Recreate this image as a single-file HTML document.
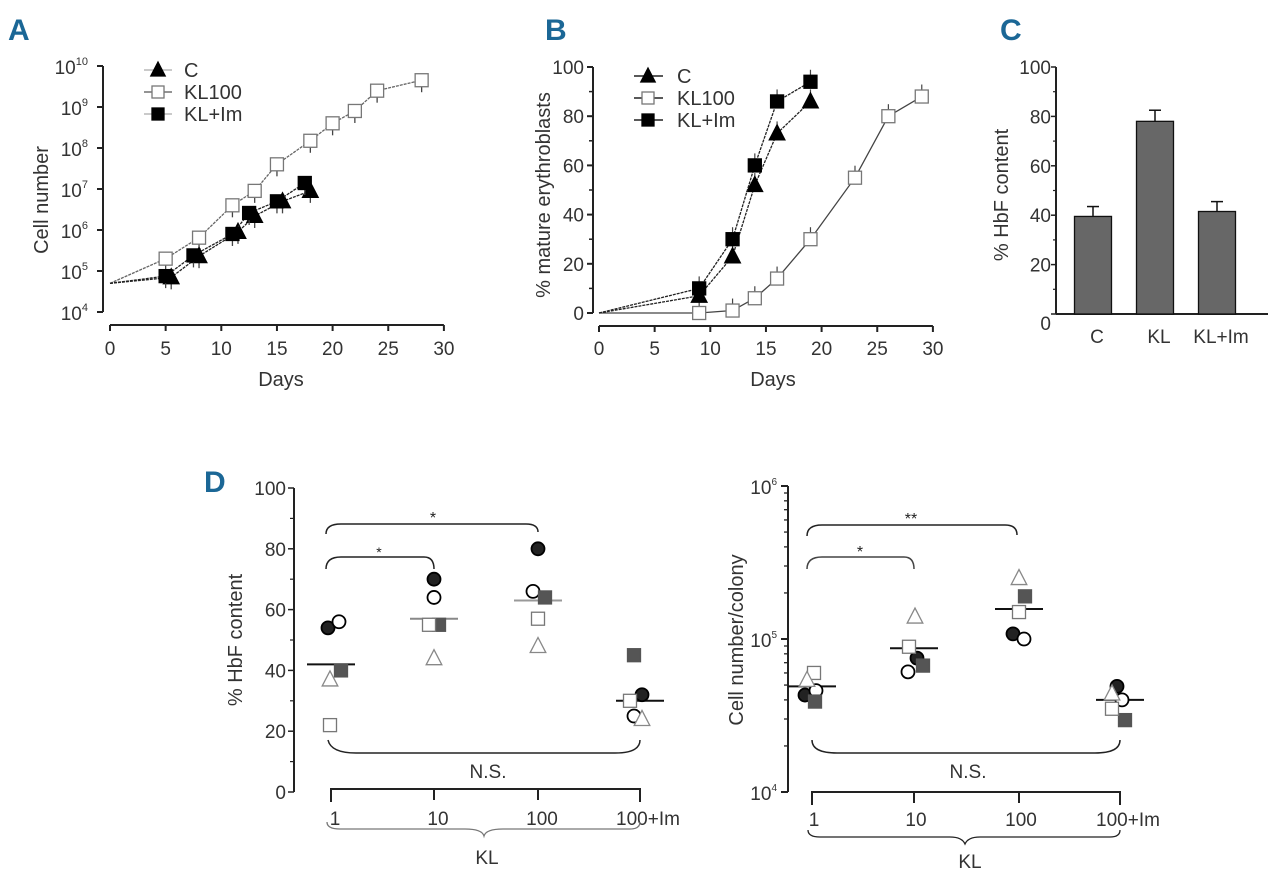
<!DOCTYPE html>
<html><head><meta charset="utf-8">
<style>
html,body{margin:0;padding:0;background:#fff;}
svg{display:block;font-family:"Liberation Sans Narrow","Liberation Sans",sans-serif;}
.lbl{font-family:"Liberation Sans",sans-serif;font-weight:bold;fill:#1b6796;font-size:30px;}
</style></head>
<body>
<svg id="fig" width="1280" height="882" viewBox="0 0 1280 882" xmlns="http://www.w3.org/2000/svg">
<text class="lbl" x="8" y="40">A</text>
<text class="lbl" x="545" y="40">B</text>
<text class="lbl" x="1000" y="40">C</text>
<text class="lbl" x="204" y="492">D</text>
<g id="gA"></g>
<g id="gB"></g>
<g id="gC"></g>
<g id="gD1"></g>
<g id="gD2"></g>
</svg>
<script>
// ---- Panel A data (cell number, log) ----
const aC_days=[0,5.5,8,11.5,13,15.5,18];
const aC_vals=[5e4,7e4,2.3e5,9e5,2.2e6,5e6,9e6];
const aIm_days=[0,5,7.5,11,12.5,15,17.5];
const aIm_vals=[5e4,7.5e4,2.4e5,8e5,2.6e6,5e6,1.4e7];
const aKL_days=[0,5,8,11,13,15,18,20,22,24,28];
const aKL_vals=[5e4,2e5,6.5e5,4e6,9e6,4e7,1.5e8,4e8,8e8,2.5e9,4.5e9];
const aYTicks=[4,5,6,7,8,9,10];
const xTicks=[0,5,10,15,20,25,30];
// ---- Panel B data (% mature erythroblasts) ----
const bC_days=[0,9,12,14,16,19];
const bC_vals=[0,7,23,52,73,86];
const bIm_days=[0,9,12,14,16,19];
const bIm_vals=[0,10,30,60,86,94];
const bKL_days=[0,9,12,14,16,19,23,26,29];
const bKL_vals=[0,0,1,6,14,30,55,80,88];
const bYTicks=[0,20,40,60,80,100];
// ---- Panel C data ----
const cCats=["C","KL","KL+Im"];
const cVals=[39.5,78,41.5];
const cErr=[4,4.5,4];
// ---- Panel D data ----
const dCats=["1","10","100","100+Im"];
const dHbf_filledCircle=[54,70,80,32];
const dHbf_openCircle=[56,64,66,25];
const dHbf_greySquare=[40,55,64,45];
const dHbf_openSquare=[22,55,57,30];
const dHbf_triangle=[37,44,48,24];
const dHbf_mean=[42,57,63,30];
const dCell_filledCircle=[4.3e4,7.5e4,1.08e5,4.9e4];
const dCell_openCircle=[4.6e4,6.1e4,1.0e5,4.0e4];
const dCell_greySquare=[3.9e4,6.7e4,1.9e5,2.95e4];
const dCell_openSquare=[6e4,8.9e4,1.5e5,3.5e4];
const dCell_triangle=[5.4e4,1.4e5,2.5e5,4.4e4];
const dCell_mean=[4.9e4,8.7e4,1.57e5,4.0e4];

const NS="http://www.w3.org/2000/svg";
function mk(parent,tag,attrs,text){const e=document.createElementNS(NS,tag);for(const k in attrs)e.setAttribute(k,attrs[k]);if(text!==undefined)e.textContent=text;parent.appendChild(e);return e;}
function line(p,x1,y1,x2,y2,st,w,dash){return mk(p,'line',{x1,y1,x2,y2,stroke:st||'#222','stroke-width':w||1.5,'stroke-dasharray':dash||'none'});}
function marker(p,type,x,y,s){
  let e;
  if(type==='tri'||type==='otri'){const h=s*1.1;e=mk(p,'polygon',{points:`${x},${y-h*0.6} ${x-s*0.6},${y+h*0.45} ${x+s*0.6},${y+h*0.45}`,fill:type==='tri'?'#000':'#fff',stroke:type==='tri'?'#000':'#888','stroke-width':1.3});}
  else if(type==='sq'||type==='osq'||type==='gsq'){e=mk(p,'rect',{x:x-s/2,y:y-s/2,width:s,height:s,fill:type==='sq'?'#000':type==='gsq'?'#555':'#fff',stroke:type==='osq'?'#777':(type==='gsq'?'#555':'#000'),'stroke-width':1.3});}
  else {e=mk(p,'circle',{cx:x,cy:y,r:s/2,fill:type==='fc'?'#222':'#fff',stroke:'#000','stroke-width':1.8});}
  return e;
}

// ===== Panel A =====
(function(){
  const g=document.getElementById('gA');
  const x0=110,px=11.13,yb=312,dec=41;
  const X=d=>x0+d*px, Y=v=>yb-(Math.log10(v)-4)*dec;
  let e;
  e=line(g,103,Y(1e10),103,yb,'#222',2);
  
  
  aYTicks.forEach(t=>{
    const y=yb-(t-4)*dec;
    e=line(g,97,y,103,y,'#222',2);
    
    
    e=mk(g,'text',{x:88,y:y+8,'text-anchor':'end','font-size':19,fill:'#333'},'10');
    
    
    mk(e,'tspan',{dy:-9,'font-size':11},String(t));
  });
  e=line(g,X(0),325,X(30),325,'#222',2);
  
  
  xTicks.forEach(t=>{
    e=line(g,X(t),325,X(t),331,'#222',2);
    
    
    e=mk(g,'text',{x:X(t),y:355,'text-anchor':'middle','font-size':19,fill:'#333'},String(t));
    
    
  });
  e=mk(g,'text',{x:281,y:386,'text-anchor':'middle','font-size':20,fill:'#333'},'Days');
  
  
  e=mk(g,'text',{x:0,y:0,'text-anchor':'middle','font-size':20,fill:'#333',transform:'translate(48,200) rotate(-90)'},'Cell number');
  
  
  const series=[[aKL_days,aKL_vals,'osq','#666','a-series-kl100'],[aC_days,aC_vals,'tri','#222','a-series-c'],[aIm_days,aIm_vals,'sq','#222','a-series-klim']];
  series.forEach(s=>{
    const sg=mk(g,'g',{});
    
    
    mk(sg,'polyline',{points:s[0].map((d,i)=>X(d)+','+Y(s[1][i])).join(' '),fill:'none',stroke:s[3],'stroke-width':1.3,'stroke-dasharray':'3,1'});
    s[0].forEach((d,i)=>{if(i===0)return;
      line(sg,X(d),Y(s[1][i]),X(d),Y(s[1][i])+12,'#444',1.3);
      e=marker(sg,s[2],X(d),Y(s[1][i]),13);
      
      });
  });
  const leg=[['tri','C'],['osq','KL100'],['sq','KL+Im']];
  leg.forEach((l,i)=>{const y=70+i*22;
    const lg=mk(g,'g',{});
    
    
    line(lg,144,y,172,y,l[0]==='osq'?'#555':'#aaa',1.3);marker(lg,l[0],158,y,12);
    mk(lg,'text',{x:184,y:y+7,'font-size':20,fill:'#333'},l[1]);});
})();

// ===== Panel B =====
(function(){
  const g=document.getElementById('gB');
  const x0=599,px=11.13,yb=313,sc=2.46;
  const X=d=>x0+d*px, Y=v=>yb-v*sc;
  let e;
  e=line(g,593,Y(100),593,yb,'#222',2);
  
  
  bYTicks.forEach(t=>{
    e=line(g,587,Y(t),593,Y(t),'#222',2);
    
    
    if(t<100){e=line(g,589,Y(t+10),593,Y(t+10),'#222',1.5);}
    e=mk(g,'text',{x:584,y:Y(t)+7,'text-anchor':'end','font-size':19,fill:'#333'},String(t));
    
    
  });
  e=line(g,X(0),326,X(30),326,'#222',2);
  
  
  xTicks.forEach(t=>{
    e=line(g,X(t),326,X(t),332,'#222',2);
    
    
    e=mk(g,'text',{x:X(t),y:355,'text-anchor':'middle','font-size':19,fill:'#333'},String(t));
    
    
  });
  e=mk(g,'text',{x:773,y:386,'text-anchor':'middle','font-size':20,fill:'#333'},'Days');
  
  
  e=mk(g,'text',{x:0,y:0,'text-anchor':'middle','font-size':20,fill:'#333',transform:'translate(550,195) rotate(-90)'},'% mature erythroblasts');
  
  
  const series=[[bKL_days,bKL_vals,'osq','#444','b-series-kl100'],[bC_days,bC_vals,'tri','#222','b-series-c'],[bIm_days,bIm_vals,'sq','#222','b-series-klim']];
  series.forEach(s=>{
    const sg=mk(g,'g',{});
    
    
    mk(sg,'polyline',{points:s[0].map((d,i)=>X(d)+','+Y(s[1][i])).join(' '),fill:'none',stroke:s[3],'stroke-width':1.3,'stroke-dasharray':s[2]==='osq'?'none':'3,1'});
    s[0].forEach((d,i)=>{if(i===0)return;
      line(sg,X(d),Y(s[1][i]),X(d),Y(s[1][i])-12,'#444',1.2);
      e=marker(sg,s[2],X(d),Y(s[1][i]),13);
      
      });
  });
  const leg=[['tri','C'],['osq','KL100'],['sq','KL+Im']];
  leg.forEach((l,i)=>{const y=76+i*22;
    const lg=mk(g,'g',{});
    
    
    line(lg,634,y,663,y,'#222',1.5);marker(lg,l[0],648,y,12);
    mk(lg,'text',{x:677,y:y+7,'font-size':20,fill:'#333'},l[1]);});
})();

// ===== Panel C =====
(function(){
  const g=document.getElementById('gC');
  const yb=314,sc=2.47;const Y=v=>yb-v*sc;
  const cx=[1093,1155,1217],bw=37;
  let e;
  e=line(g,1056,Y(100),1056,yb,'#222',2);
  
  
  e=line(g,1056,yb,1268,yb,'#222',2);
  
  
  [0,20,40,60,80,100].forEach(t=>{
    e=line(g,1051,Y(t),1056,Y(t),'#222',1.5);
    
    
    if(t<100){e=line(g,1053,Y(t+10),1056,Y(t+10),'#222',1.2);}
    e=mk(g,'text',{x:1051,y:Y(t)+(t===0?16:7),'text-anchor':'end','font-size':19,fill:'#333'},String(t));
    
    
  });
  e=mk(g,'text',{x:0,y:0,'text-anchor':'middle','font-size':20,fill:'#333',transform:'translate(1008,195) rotate(-90)'},'% HbF content');
  
  
  cCats.forEach((c,i)=>{
    e=mk(g,'rect',{x:cx[i]-bw/2,y:Y(cVals[i]),width:bw,height:cVals[i]*sc,fill:'#676767',stroke:'#111','stroke-width':1.3});
    
    
    e=line(g,cx[i],Y(cVals[i]),cx[i],Y(cVals[i]+cErr[i]),'#111',1.5);
    
    
    line(g,cx[i]-6,Y(cVals[i]+cErr[i]),cx[i]+6,Y(cVals[i]+cErr[i]),'#111',1.5);
    e=mk(g,'text',{x:cx[i]+4,y:343,'text-anchor':'middle','font-size':19,fill:'#333'},c);
    
    
  });
})();

// ===== Panel D helpers =====
function drawD(g,pre,cx,Y,sets,means,meanColor,offs){
  dCats.forEach((c,i)=>{
    const mg=mk(g,'g',{});
    
    
    let e=line(mg,cx[i]-24,Y(means[i]),cx[i]+24,Y(means[i]),meanColor[i],2);
    
    
    sets.forEach((s,k)=>{
      e=marker(mg,s[1],cx[i]+offs[i][k],Y(s[0][i]),13);
      
      
    });
  });
}

// ===== Panel D left =====
(function(){
  const g=document.getElementById('gD1');
  const yb=792,sc=3.04;const Y=v=>yb-v*sc;
  const cx=[331,434,538,640];
  let e;
  e=line(g,294,Y(100),294,yb,'#222',2);
  
  
  [0,20,40,60,80,100].forEach(t=>{
    e=line(g,288,Y(t),294,Y(t),'#222',1.5);
    
    
    if(t<100){e=line(g,290,Y(t+10),294,Y(t+10),'#222',1.2);}
    e=mk(g,'text',{x:286,y:Y(t)+7,'text-anchor':'end','font-size':19,fill:'#333'},String(t));
    
    
  });
  e=mk(g,'text',{x:0,y:0,'text-anchor':'middle','font-size':20,fill:'#333',transform:'translate(242,640) rotate(-90)'},'% HbF content');
  
  
  e=mk(g,'path',{d:`M${cx[0]},${802} L${cx[0]},${789} L${cx[3]},${789} L${cx[3]},${802}`,fill:'none',stroke:'#222','stroke-width':2});
  
  
  dCats.forEach((c,i)=>{
    line(g,cx[i],789,cx[i],800,'#222',2);
    e=mk(g,'text',{x:cx[i]+(i===3?8:4),y:825,'text-anchor':'middle','font-size':19,fill:'#333'},c);
    
    
  });
  e=mk(g,'path',{d:`M327,822 Q327,829 340,829 L465,829 Q482,829 484,836 Q486,829 503,829 L630,829 Q640,829 640,822`,fill:'none',stroke:'#777','stroke-width':1.3});
  
  
  e=mk(g,'text',{x:487,y:864,'text-anchor':'middle','font-size':19,fill:'#333'},'KL');
  
  
  e=mk(g,'path',{d:`M${cx[0]-5},534 Q${cx[0]-5},524 ${cx[0]+10},524 L${cx[2]-12},524 Q${cx[2]},524 ${cx[2]},532`,fill:'none',stroke:'#222','stroke-width':1.5});
  
  
  e=mk(g,'path',{d:`M${cx[0]-5},569 Q${cx[0]-5},557 ${cx[0]+10},557 L${cx[1]-10},557 Q${cx[1]},557 ${cx[1]},569`,fill:'none',stroke:'#222','stroke-width':1.5});
  
  
  e=mk(g,'text',{x:433,y:523,'text-anchor':'middle','font-size':16,fill:'#222'},'*');
  
  
  e=mk(g,'text',{x:379,y:557,'text-anchor':'middle','font-size':14,fill:'#222'},'*');
  
  
  e=mk(g,'path',{d:`M${cx[0]-3},740 Q${cx[0]},753 ${cx[0]+25},753 L${cx[3]-25},753 Q${cx[3]},753 ${cx[3]},740`,fill:'none',stroke:'#222','stroke-width':1.5});
  
  
  e=mk(g,'text',{x:488,y:778,'text-anchor':'middle','font-size':19,fill:'#333'},'N.S.');
  
  
  drawD(g,'d1',cx,Y,[[dHbf_filledCircle,'fc'],[dHbf_openCircle,'oc'],[dHbf_greySquare,'gsq'],[dHbf_openSquare,'osq'],[dHbf_triangle,'otri']],dHbf_mean,['#111','#888','#999','#111'],
    [[-3,8,10,-1,-1],[0,0,5,-5,0],[0,-5,7,0,0],[2,-6,-6,-10,2]]);
})();

// ===== Panel D right =====
(function(){
  const g=document.getElementById('gD2');
  const yb=792,dec=153;const Y=v=>yb-(Math.log10(v)-4)*dec;
  const cx=[812,914,1019,1120];
  let e;
  e=line(g,788,Y(1e6),788,yb,'#222',2);
  
  
  [4,5,6].forEach(t=>{
    const y=yb-(t-4)*dec;
    e=line(g,781,y,788,y,'#222',2);
    
    
    e=mk(g,'text',{x:777,y:y+8,'text-anchor':'end','font-size':19,fill:'#333'},'10');
    
    
    mk(e,'tspan',{dy:-9,'font-size':10},String(t));
  });
  [4,5].forEach(t=>{for(let m=2;m<10;m++){
    e=line(g,784,Y(m*Math.pow(10,t)),788,Y(m*Math.pow(10,t)),'#222',1.3);
    
    }});
  e=mk(g,'text',{x:0,y:0,'text-anchor':'middle','font-size':20,fill:'#333',transform:'translate(743,640) rotate(-90)'},'Cell number/colony');
  
  
  e=mk(g,'path',{d:`M${cx[0]},${805} L${cx[0]},${792} L${cx[3]},${792} L${cx[3]},${805}`,fill:'none',stroke:'#222','stroke-width':2});
  
  
  dCats.forEach((c,i)=>{
    line(g,cx[i],792,cx[i],803,'#222',2);
    e=mk(g,'text',{x:cx[i]+(i===3?8:2),y:826,'text-anchor':'middle','font-size':19,fill:'#333'},c);
    
    
  });
  e=mk(g,'path',{d:`M808,830 Q808,837 820,837 L950,837 Q962,837 965,844 Q968,837 980,837 L1110,837 Q1120,837 1120,830`,fill:'none',stroke:'#222','stroke-width':1.3});
  
  
  e=mk(g,'text',{x:970,y:868,'text-anchor':'middle','font-size':19,fill:'#333'},'KL');
  
  
  e=mk(g,'path',{d:`M807,536 Q807,525 822,525 L1005,525 Q1017,525 1017,535`,fill:'none',stroke:'#222','stroke-width':1.5});
  
  
  e=mk(g,'path',{d:`M807,569 Q807,557 822,557 L904,557 Q914,557 914,569`,fill:'none',stroke:'#444','stroke-width':1.5});
  
  
  e=mk(g,'text',{x:911,y:524,'text-anchor':'middle','font-size':16,fill:'#222'},'**');
  
  
  e=mk(g,'text',{x:860,y:557,'text-anchor':'middle','font-size':16,fill:'#222'},'*');
  
  
  e=mk(g,'path',{d:`M${cx[0]},740 Q${cx[0]},753 ${cx[0]+25},753 L${cx[3]-25},753 Q${cx[3]},753 ${cx[3]},740`,fill:'none',stroke:'#222','stroke-width':1.5});
  
  
  e=mk(g,'text',{x:968,y:778,'text-anchor':'middle','font-size':19,fill:'#333'},'N.S.');
  
  
  drawD(g,'d2',cx,Y,[[dCell_filledCircle,'fc'],[dCell_openCircle,'oc'],[dCell_greySquare,'gsq'],[dCell_openSquare,'osq'],[dCell_triangle,'otri']],dCell_mean,['#111','#111','#111','#111'],
    [[-7,4,3,2,-5],[3,-6,9,-5,1],[-6,5,6,0,0],[-3,2,5,-8,-8]]);
})();
</script>
</body></html>
